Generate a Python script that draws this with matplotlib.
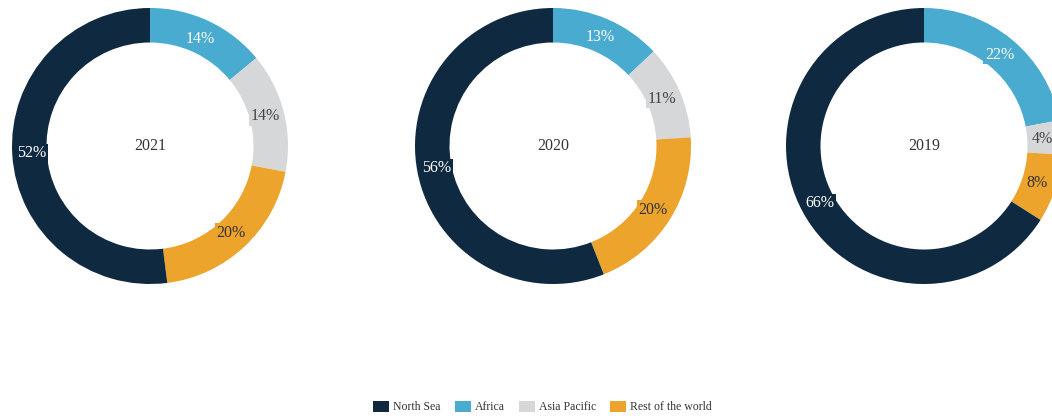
import numpy as np
import matplotlib.pyplot as plt
from matplotlib.patches import Patch

plt.rcParams['font.family'] = ['Liberation Serif', 'DejaVu Serif']

years = ["2021", "2020", "2019"]
regions = ["Africa", "Asia Pacific", "Rest of the world", "North Sea"]
africa = [14, 13, 22]
asia_pacific = [14, 11, 4]
rest_of_world = [20, 20, 8]
north_sea = [52, 56, 66]

colors = {"North Sea": "#0e2940", "Africa": "#48abcf",
          "Asia Pacific": "#d6d7d9", "Rest of the world": "#eca42c"}
text_colors = {"North Sea": "white", "Africa": "white",
               "Asia Pacific": "#444444", "Rest of the world": "#333333"}

W, H = 1052, 418
fig = plt.figure(figsize=(W / 100, H / 100), dpi=100)

centers = [(150, 146), (553, 146), (924, 146)]
R = 138

for i, year in enumerate(years):
    cx, cy = centers[i]
    ax = fig.add_axes([(cx - R) / W, (H - cy - R) / H, 2 * R / W, 2 * R / H])
    vals = [africa[i], asia_pacific[i], rest_of_world[i], north_sea[i]]
    wedges, _ = ax.pie(vals, radius=1, startangle=90, counterclock=False,
                       colors=[colors[r] for r in regions],
                       wedgeprops=dict(width=0.25, linewidth=0))
    for w, v, reg in zip(wedges, vals, regions):
        ang = np.deg2rad((w.theta1 + w.theta2) / 2)
        x, y = 0.86 * np.cos(ang), 0.86 * np.sin(ang)
        ax.text(x, y, f"{v}%", ha="center", va="center", fontsize=11.5,
                color=text_colors[reg],
                bbox=dict(boxstyle="square,pad=0.1", fc=colors[reg], ec="none"))
    ax.text(0, 0, year, ha="center", va="center", fontsize=11.5, color="#333333")
    ax.set_xlim(-1, 1)
    ax.set_ylim(-1, 1)
    ax.set_aspect("equal")
    ax.axis("off")

legend_order = ["North Sea", "Africa", "Asia Pacific", "Rest of the world"]
handles = [Patch(facecolor=colors[r], edgecolor="none", label=r) for r in legend_order]
fig.legend(handles=handles, loc="center", bbox_to_anchor=(542.5 / W, 11 / H), ncol=4,
           frameon=False, fontsize=8.5, handlelength=1.35, handleheight=1.1,
           columnspacing=1.2, handletextpad=0.35, labelcolor="#333333")

fig.savefig("out.png", dpi=100)
